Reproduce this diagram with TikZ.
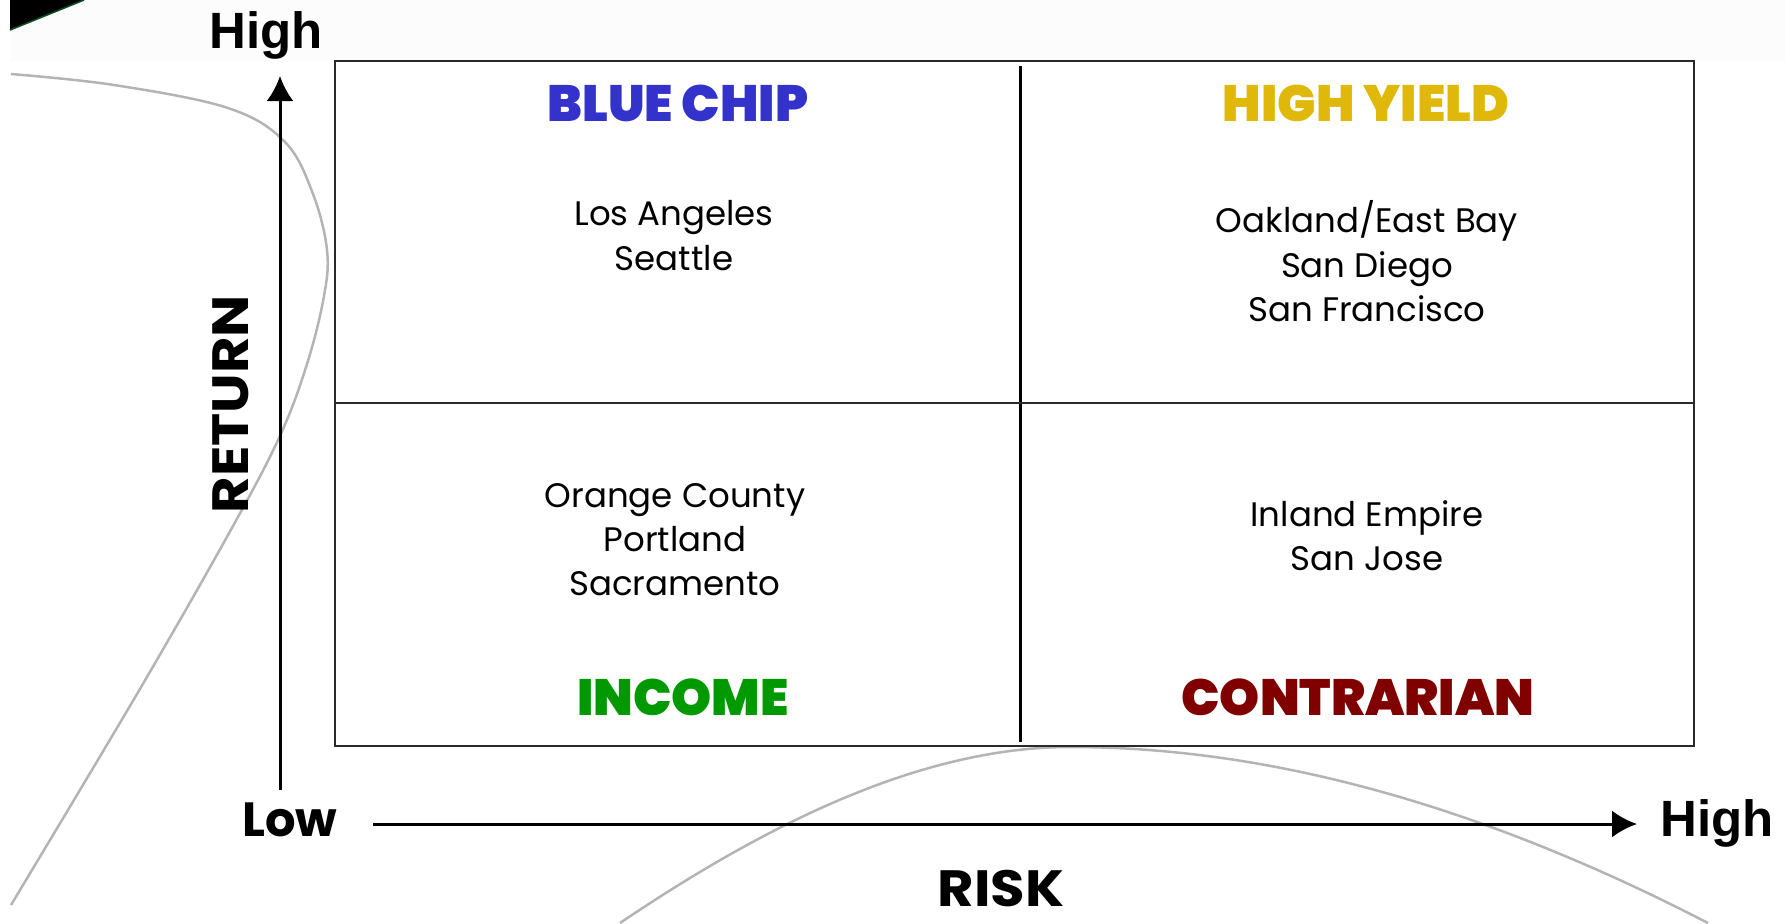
\documentclass[tikz,border=0pt]{standalone}
\usepackage{fontspec}
\setmainfont{Poppins}
\newfontfamily\heavyfont{Poppins Black}
\newfontfamily\axisfont{Poppins Bold}
\newfontfamily\axiswide{Poppins Bold}[FakeStretch=1.1]
\newfontfamily\highfont{Liberation Sans Bold}
\usetikzlibrary{arrows.meta}

\definecolor{bandgray}{HTML}{FCFCFC}
\definecolor{curvegray}{HTML}{B4B4B4}
\definecolor{framegray}{HTML}{2A2A2A}
\definecolor{bluechip}{HTML}{3333CC}
\definecolor{highyield}{HTML}{DFB80A}
\definecolor{income}{HTML}{009A00}
\definecolor{contrarian}{HTML}{800000}
\definecolor{cornergreen}{HTML}{0B4A22}

\begin{document}
\begin{tikzpicture}[x=0.5pt,y=-0.5pt,
  curve/.style={draw=curvegray, line width=1.25pt},
  frame/.style={draw=framegray, line width=1pt},
  axis/.style={line width=1.5pt, -{Latex[length=12.5pt,width=13.5pt]}},
  quadtitle/.style={anchor=base, inner sep=0pt, font=\heavyfont\fontsize{25.5}{25.5}\selectfont},
  city/.style={anchor=base, inner sep=0pt, font=\fontsize{17}{17}\selectfont},
  axislabel/.style={anchor=base, inner sep=0pt, font=\axisfont\fontsize{24}{24}\selectfont},
  widelabel/.style={anchor=base, inner sep=0pt, font=\axiswide\fontsize{25.5}{25.5}\selectfont},
  highlabel/.style={anchor=base, inner sep=0pt, font=\highfont\fontsize{25.5}{25.5}\selectfont},
]
\useasboundingbox (0,0) rectangle (1785,923);

% header band and corner graphic
\fill[bandgray] (10,0) rectangle (1785,61);
\fill[black] (10,0) -- (84,0) -- (10,30) -- cycle;
\draw[cornergreen, line width=0.8pt] (84,0) -- (10,30);

% decorative background curves
\draw[curve] plot[smooth, tension=0.6] coordinates {
  (11,74) (114,85) (228,108) (285,142) (313,194) (327,250) (324,296)
  (307,364) (279,438) (228,535) (137,694) (11,905)};
\draw[curve] (620,923) .. controls (780,815) and (930,747) .. (1070,747)
  .. controls (1260,747) and (1470,800) .. (1708,923);

% quadrant frame
\coordinate (nw) at (335,61);
\coordinate (se) at (1694,746);
\coordinate (midtop) at (1020,66);
\coordinate (midbot) at (1020,742);
\coordinate (midleft) at (335,403);
\coordinate (midright) at (1694,403);
\draw[frame] (nw) rectangle (se);
\draw[black, line width=1.5pt] (midtop) -- (midbot);
\draw[framegray, line width=0.8pt] (midleft) -- (midright);

% axes
\coordinate (ybot) at (280,790);
\coordinate (ytop) at (280,76);
\coordinate (xleft) at (373,824);
\coordinate (xright) at (1637,824);
\draw[axis] (ybot) -- (ytop);
\draw[axis] (xleft) -- (xright);

% axis labels
\node[highlabel] (rethigh) at (266,48) {High};
\node[axislabel] (risklow) at (290,836) {Low};
\node[highlabel] (riskhigh) at (1717,836) {High};
\node[widelabel, text depth=0pt] (risk) at (1001,906) {RISK};
\node[widelabel, rotate=90] (ret) at (248,404) {RETURN};

% quadrant titles
\node[quadtitle, text=bluechip] (tbc) at (678,121) {BLUE CHIP};
\node[quadtitle, text=highyield] (thy) at (1366,121) {HIGH YIELD};
\node[quadtitle, text=income] (tin) at (683,715) {INCOME};
\node[quadtitle, text=contrarian] (tco) at (1358,715) {CONTRARIAN};

% markets in each quadrant
\node[city] (c1) at (674,225) {Los Angeles};
\node[city] (c2) at (674,270) {Seattle};
\node[city] (c3) at (1367,232) {Oakland/East Bay};
\node[city] (c4) at (1367,277) {San Diego};
\node[city] (c5) at (1367,321) {San Francisco};
\node[city] (c6) at (675,507) {Orange County};
\node[city] (c7) at (675,551) {Portland};
\node[city] (c8) at (675,595) {Sacramento};
\node[city] (c9) at (1367,526) {Inland Empire};
\node[city] (c10) at (1367,570) {San Jose};
\end{tikzpicture}
\end{document}
